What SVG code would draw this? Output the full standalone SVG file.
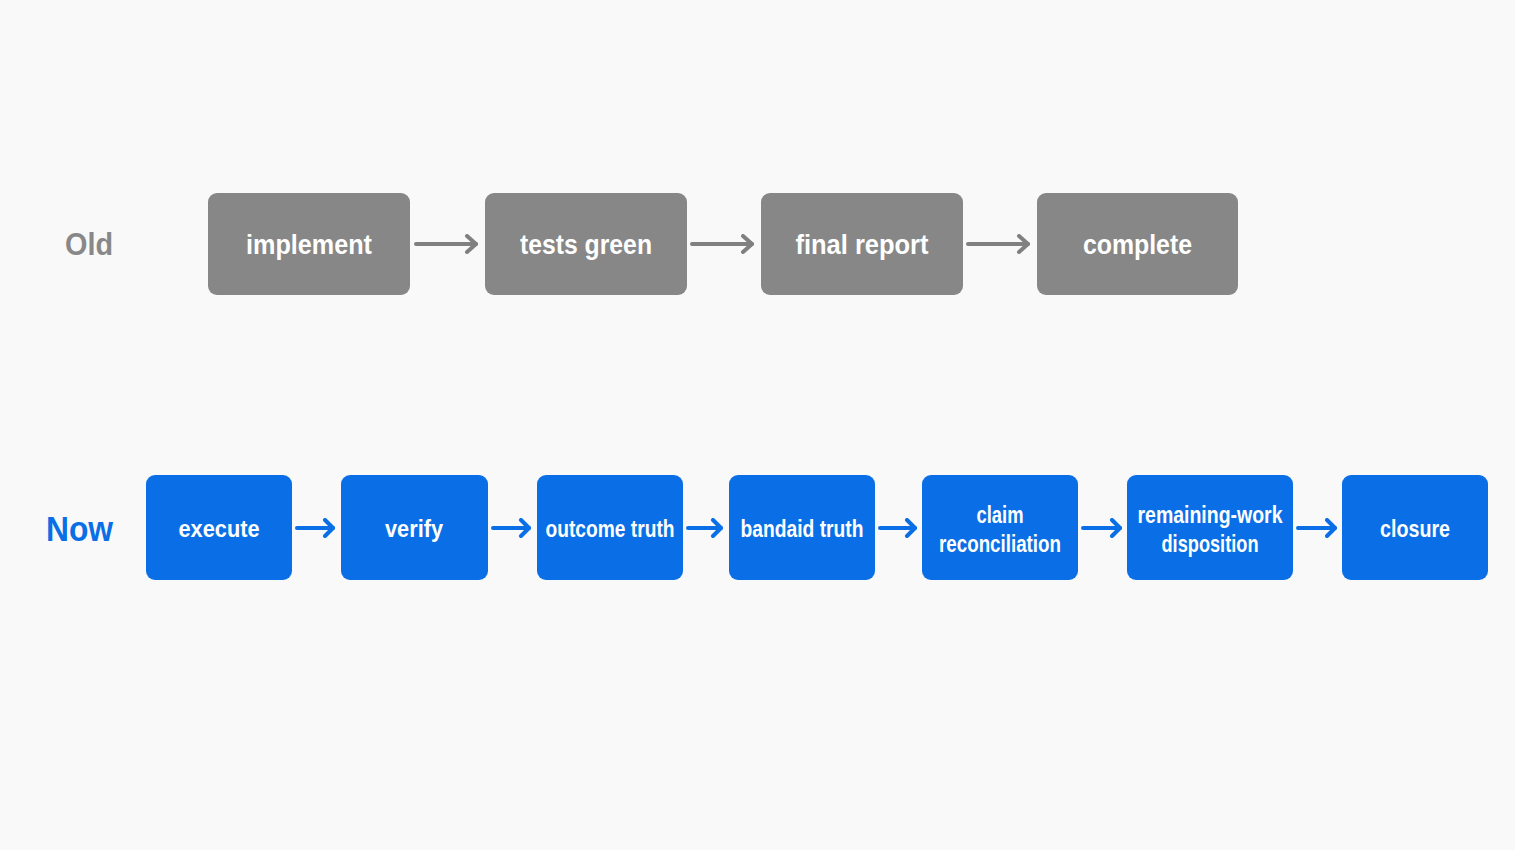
<svg xmlns="http://www.w3.org/2000/svg" width="1515" height="850" viewBox="0 0 1515 850">
<defs>
<style>
.bg{fill:#f9f9f9}
.old rect{fill:#878787}
.now rect{fill:#0a6fe6}
.t{font-family:"Liberation Sans",Arial,sans-serif;font-weight:bold;fill:#ffffff;text-anchor:middle;dominant-baseline:central}
.ot{font-size:28px}
.nt{font-size:24px}
.lab{font-family:"Liberation Sans",Arial,sans-serif;font-weight:bold;dominant-baseline:central}
.ga{stroke:#808080;stroke-width:4;fill:none;stroke-linecap:round}
.ba{stroke:#0a6fe6;stroke-width:4;fill:none;stroke-linecap:round}
</style>
<marker id="mg" viewBox="0 0 14 20" refX="12" refY="10" markerWidth="14" markerHeight="20" markerUnits="userSpaceOnUse" orient="auto"><path d="M3,2 L12,10 L3,18" fill="none" stroke="#808080" stroke-width="4" stroke-linecap="round" stroke-linejoin="round"/></marker>
<marker id="mb" viewBox="0 0 14 20" refX="12" refY="10" markerWidth="14" markerHeight="20" markerUnits="userSpaceOnUse" orient="auto"><path d="M4,2 L12,10 L4,18" fill="none" stroke="#0a6fe6" stroke-width="4" stroke-linecap="round" stroke-linejoin="round"/></marker>
</defs>
<rect class="bg" x="0" y="0" width="1515" height="850"/>
<text class="lab" x="65" y="244" font-size="32" fill="#888888" textLength="48" lengthAdjust="spacingAndGlyphs">Old</text>
<text class="lab" x="46" y="528" font-size="35" fill="#0a6fe6" textLength="67" lengthAdjust="spacingAndGlyphs">Now</text>
<g id="old-implement" class="old"><rect x="208" y="193" width="202" height="102" rx="9"/><text class="t ot" x="309" y="244" textLength="126" lengthAdjust="spacingAndGlyphs">implement</text></g>
<g id="old-tests-green" class="old"><rect x="485" y="193" width="202" height="102" rx="9"/><text class="t ot" x="586" y="244" textLength="132" lengthAdjust="spacingAndGlyphs">tests green</text></g>
<g id="old-final-report" class="old"><rect x="761" y="193" width="202" height="102" rx="9"/><text class="t ot" x="862" y="244" textLength="133" lengthAdjust="spacingAndGlyphs">final report</text></g>
<g id="old-complete" class="old"><rect x="1037" y="193" width="201" height="102" rx="9"/><text class="t ot" x="1137.5" y="244" textLength="109" lengthAdjust="spacingAndGlyphs">complete</text></g>
<g id="now-execute" class="now"><rect x="146" y="475" width="146" height="105" rx="9"/><text class="t nt" x="219" y="528" textLength="81" lengthAdjust="spacingAndGlyphs">execute</text></g>
<g id="now-verify" class="now"><rect x="341" y="475" width="147" height="105" rx="9"/><text class="t nt" x="414" y="528" textLength="58" lengthAdjust="spacingAndGlyphs">verify</text></g>
<g id="now-outcome-truth" class="now"><rect x="537" y="475" width="146" height="105" rx="9"/><text class="t nt" x="610" y="528" textLength="129" lengthAdjust="spacingAndGlyphs">outcome truth</text></g>
<g id="now-bandaid-truth" class="now"><rect x="729" y="475" width="146" height="105" rx="9"/><text class="t nt" x="802" y="528" textLength="123" lengthAdjust="spacingAndGlyphs">bandaid truth</text></g>
<g id="now-claim-reconciliation" class="now"><rect x="922" y="475" width="156" height="105" rx="9"/><text class="t nt" x="1000" y="514" textLength="47" lengthAdjust="spacingAndGlyphs">claim</text><text class="t nt" x="1000" y="543" textLength="122" lengthAdjust="spacingAndGlyphs">reconciliation</text></g>
<g id="now-remaining-work-disposition" class="now"><rect x="1127" y="475" width="166" height="105" rx="9"/><text class="t nt" x="1210" y="514" textLength="145" lengthAdjust="spacingAndGlyphs">remaining-work</text><text class="t nt" x="1210" y="543" textLength="97" lengthAdjust="spacingAndGlyphs">disposition</text></g>
<g id="now-closure" class="now"><rect x="1342" y="475" width="146" height="105" rx="9"/><text class="t nt" x="1415" y="528" textLength="70" lengthAdjust="spacingAndGlyphs">closure</text></g>
<g id="connectors">
<line class="ga" x1="416" y1="244" x2="476" y2="244" marker-end="url(#mg)"/>
<line class="ga" x1="692" y1="244" x2="752" y2="244" marker-end="url(#mg)"/>
<line class="ga" x1="968" y1="244" x2="1028" y2="244" marker-end="url(#mg)"/>
<line class="ba" x1="297" y1="528" x2="333" y2="528" marker-end="url(#mb)"/>
<line class="ba" x1="493" y1="528" x2="529" y2="528" marker-end="url(#mb)"/>
<line class="ba" x1="688" y1="528" x2="721" y2="528" marker-end="url(#mb)"/>
<line class="ba" x1="880" y1="528" x2="915" y2="528" marker-end="url(#mb)"/>
<line class="ba" x1="1083" y1="528" x2="1120" y2="528" marker-end="url(#mb)"/>
<line class="ba" x1="1298" y1="528" x2="1335" y2="528" marker-end="url(#mb)"/>
</g>
</svg>
